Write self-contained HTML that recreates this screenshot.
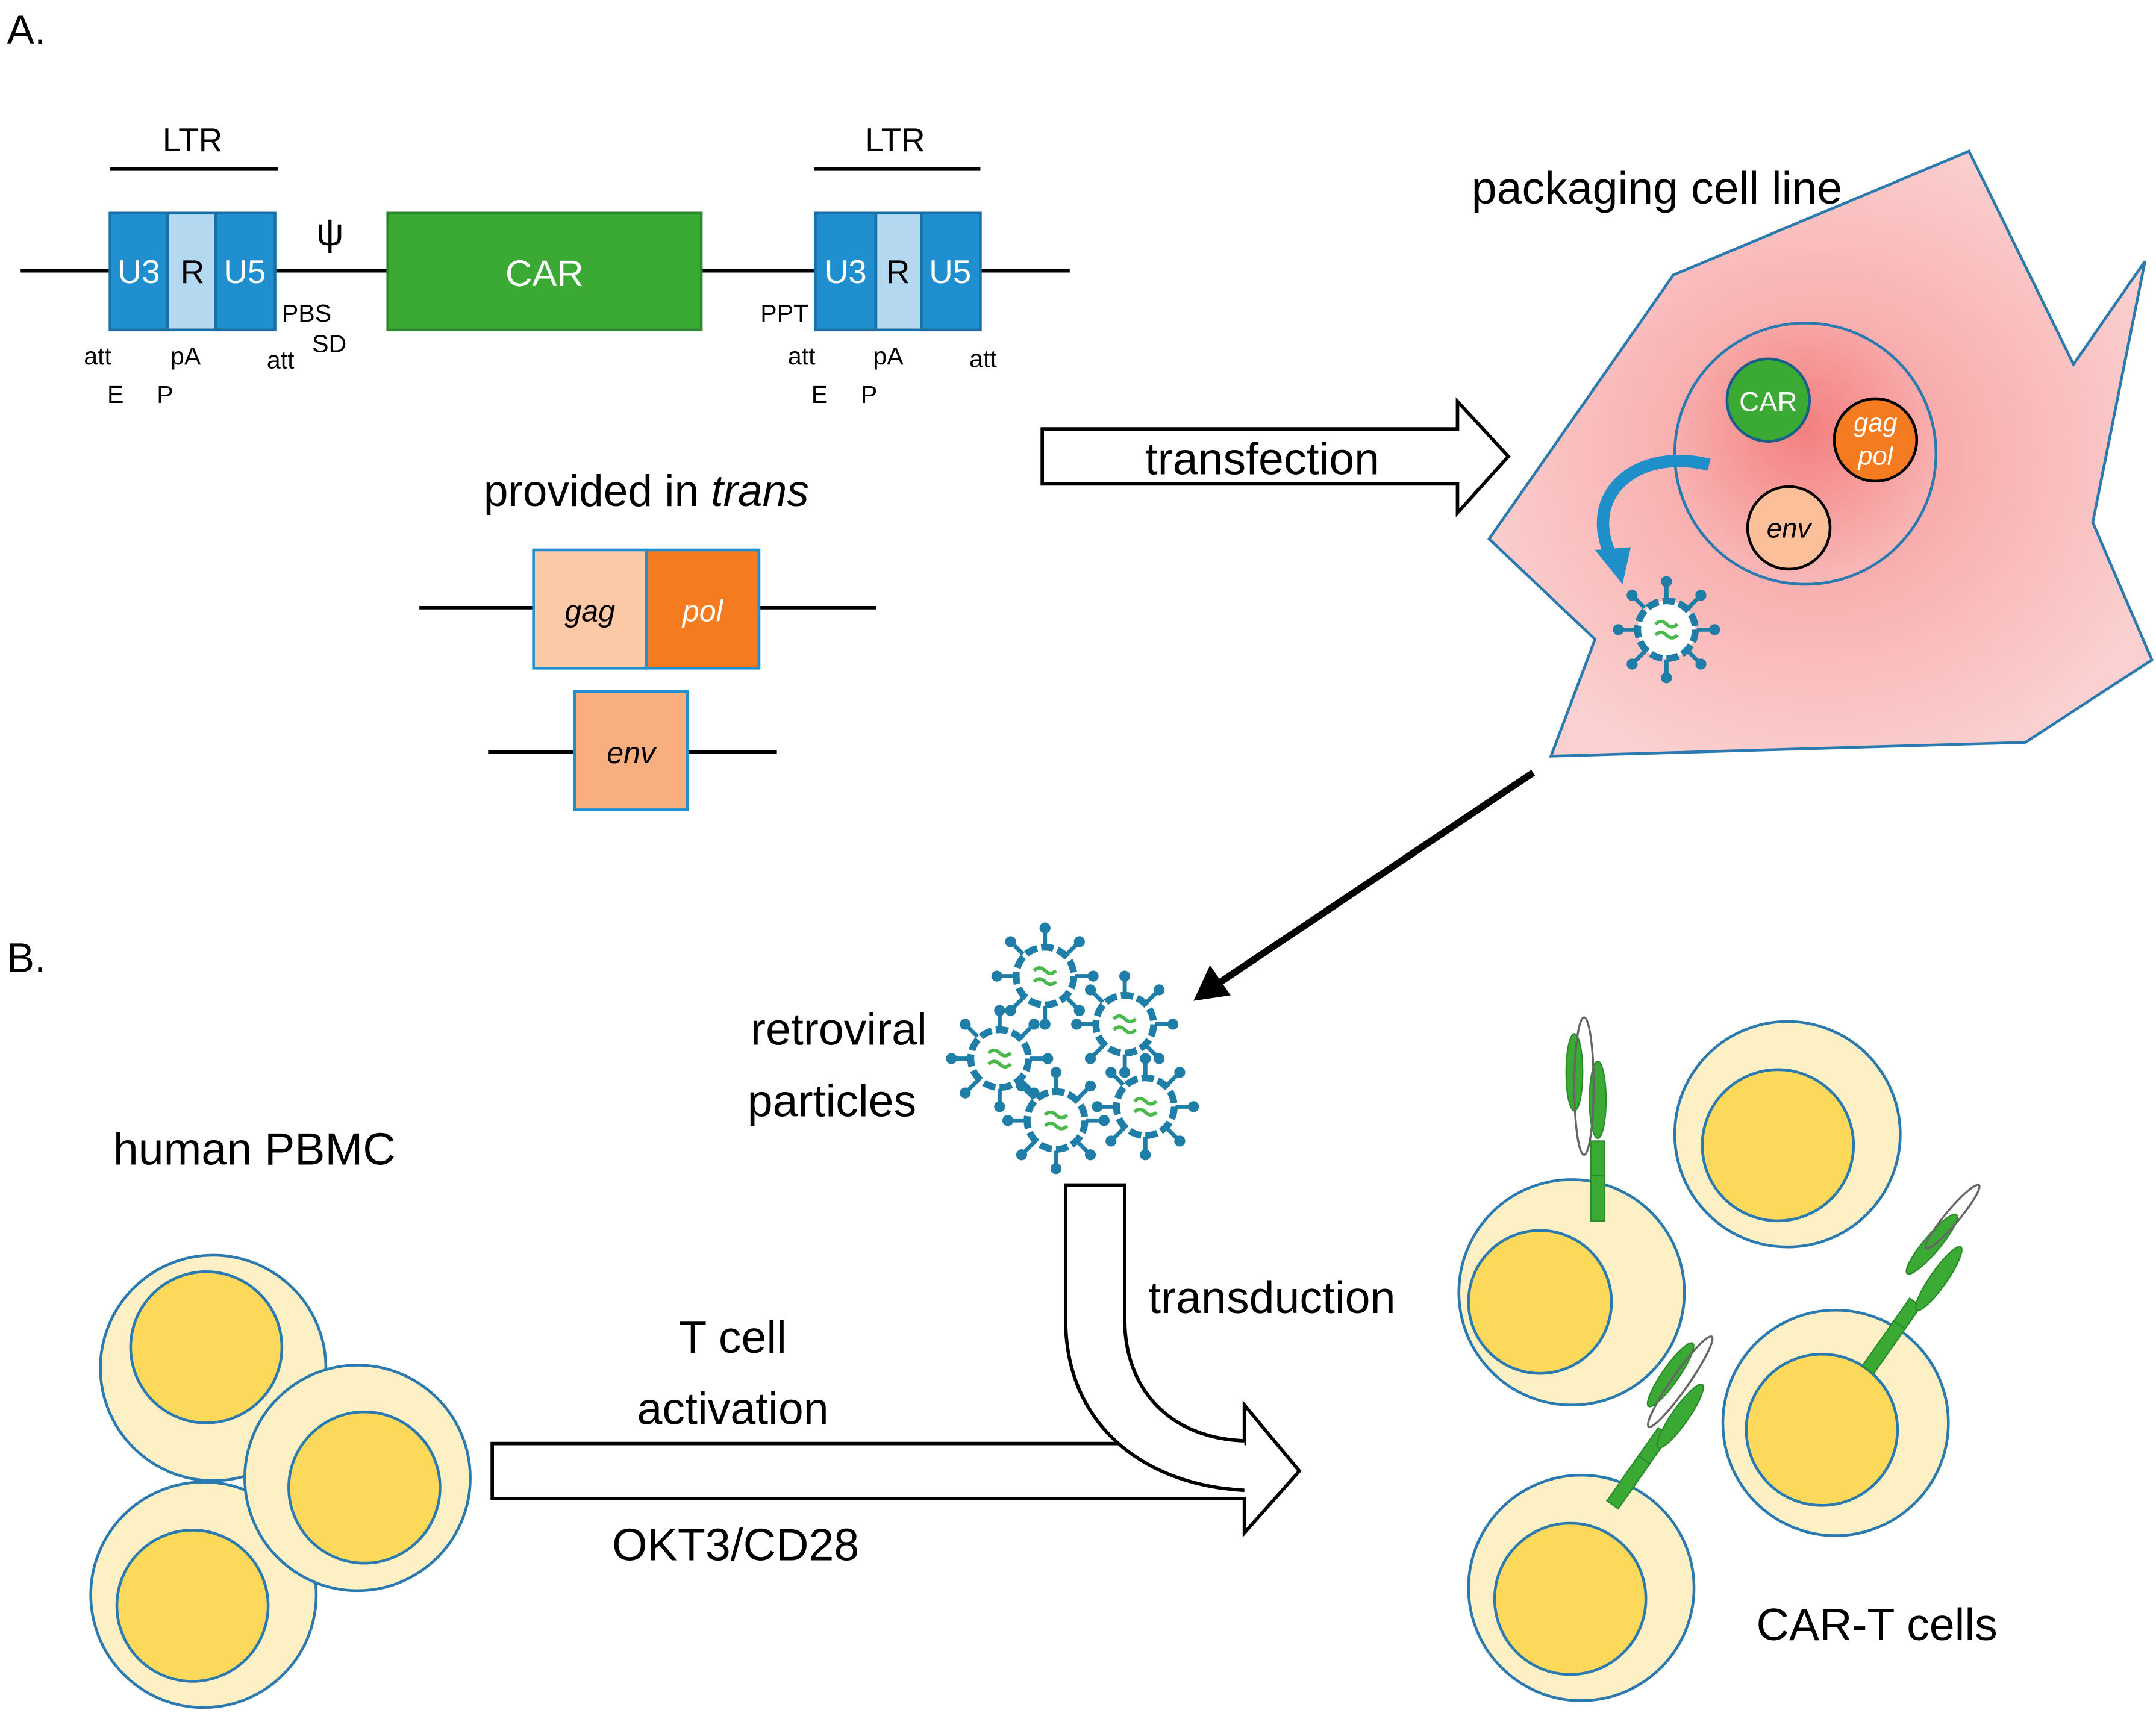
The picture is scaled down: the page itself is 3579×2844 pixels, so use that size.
<!DOCTYPE html>
<html><head><meta charset="utf-8"><style>html,body{margin:0;padding:0;background:#fff}svg{display:block}text{font-family:"Liberation Sans","DejaVu Sans",sans-serif}</style></head>
<body>
<svg width="3579" height="2844" viewBox="0 0 1568 1246" xmlns="http://www.w3.org/2000/svg">
<defs>
<radialGradient id="pk" cx="0.5" cy="0.5" r="0.55"><stop offset="0" stop-color="#f79a9a"/><stop offset="1" stop-color="#fbd0d0"/></radialGradient>
<radialGradient id="nu" cx="0.5" cy="0.4" r="0.6"><stop offset="0" stop-color="#f47f7f"/><stop offset="1" stop-color="#f9b8b8"/></radialGradient>
<g id="vir">
<g stroke="#1e7ea8" stroke-width="3">
<line x1="0" y1="-22" x2="0" y2="-34"/><line x1="0" y1="22" x2="0" y2="34"/><line x1="-22" y1="0" x2="-34" y2="0"/><line x1="22" y1="0" x2="34" y2="0"/>
<line x1="16" y1="16" x2="24" y2="24"/><line x1="-16" y1="16" x2="-24" y2="24"/><line x1="16" y1="-16" x2="24" y2="-24"/><line x1="-16" y1="-16" x2="-24" y2="-24"/>
</g>
<g fill="#1e7ea8"><circle cx="0" cy="-35" r="4"/><circle cx="0" cy="35" r="4"/><circle cx="-35" cy="0" r="4"/><circle cx="35" cy="0" r="4"/><circle cx="25" cy="25" r="4"/><circle cx="-25" cy="25" r="4"/><circle cx="25" cy="-25" r="4"/><circle cx="-25" cy="-25" r="4"/></g>
<circle r="21" fill="#fff" stroke="#1e7ea8" stroke-width="5" stroke-dasharray="9 3"/>
<path d="M-8,-4 q4,-4 8,0 t8,0 M-8,4 q4,-4 8,0 t8,0" fill="none" stroke="#4ab84a" stroke-width="2.5"/>
</g>
</defs>
<rect width="1568" height="1246" fill="#fff"/>
<text x="5" y="32" font-size="30">A.</text>
<text x="5" y="707" font-size="30">B.</text>

<line x1="15" y1="197" x2="778" y2="197" stroke="#000" stroke-width="2.5"/>
<line x1="80" y1="123" x2="202" y2="123" stroke="#000" stroke-width="2.5"/>
<line x1="592" y1="123" x2="713" y2="123" stroke="#000" stroke-width="2.5"/>
<text x="140" y="110" font-size="24" text-anchor="middle">LTR</text>
<text x="651" y="110" font-size="24" text-anchor="middle">LTR</text>
<g stroke="#1a6fa8" stroke-width="2">
<rect x="80" y="155" width="42" height="85" fill="#1f8fd0"/><rect x="122" y="155" width="35" height="85" fill="#b3d8f0"/><rect x="157" y="155" width="43" height="85" fill="#1f8fd0"/>
<rect x="593" y="155" width="44" height="85" fill="#1f8fd0"/><rect x="637" y="155" width="33" height="85" fill="#b3d8f0"/><rect x="670" y="155" width="43" height="85" fill="#1f8fd0"/>
</g>
<rect x="282" y="155" width="228" height="85" fill="#3aaa35" stroke="#2b8a2a" stroke-width="2"/>
<g font-size="24" text-anchor="middle" fill="#fff">
<text x="101" y="206">U3</text><text x="178" y="206">U5</text><text x="615" y="206">U3</text><text x="691" y="206">U5</text>
<text x="396" y="208" font-size="27">CAR</text>
</g>
<text x="140" y="206" font-size="24" text-anchor="middle">R</text>
<text x="653" y="206" font-size="24" text-anchor="middle">R</text>
<text x="240" y="178" font-size="28" text-anchor="middle">ψ</text>
<g font-size="18">
<text x="205" y="234">PBS</text><text x="227" y="256">SD</text><text x="61" y="265">att</text><text x="124" y="265">pA</text><text x="194" y="268">att</text><text x="78" y="293">E</text><text x="114" y="293">P</text>
<text x="553" y="234">PPT</text><text x="573" y="265">att</text><text x="635" y="265">pA</text><text x="705" y="267">att</text><text x="590" y="293">E</text><text x="626" y="293">P</text>
</g>

<text x="470" y="368" font-size="32" text-anchor="middle">provided in <tspan font-style="italic">trans</tspan></text>
<line x1="305" y1="442" x2="637" y2="442" stroke="#000" stroke-width="2.5"/>
<rect x="388" y="400" width="82" height="86" fill="#fbc9a5" stroke="#1f8fd0" stroke-width="2"/>
<rect x="470" y="400" width="82" height="86" fill="#f47b20" stroke="#1f8fd0" stroke-width="2"/>
<text x="429" y="452" font-size="22" font-style="italic" text-anchor="middle">gag</text>
<text x="511" y="452" font-size="22" font-style="italic" text-anchor="middle" fill="#fff">pol</text>
<line x1="355" y1="547" x2="565" y2="547" stroke="#000" stroke-width="2.5"/>
<rect x="418" y="503" width="82" height="86" fill="#f9ae7f" stroke="#1f8fd0" stroke-width="2"/>
<text x="459" y="555" font-size="22" font-style="italic" text-anchor="middle">env</text>

<polygon points="758,312 1060,312 1060,292 1097,332 1060,373 1060,352 758,352" fill="#fff" stroke="#000" stroke-width="2.5"/>
<text x="918" y="345" font-size="33" text-anchor="middle">transfection</text>

<polygon points="1083,392 1217,200 1432,110 1508,265 1560,190 1522,380 1565,480 1473,540 1301,545 1128,550 1160,465" fill="url(#pk)" stroke="#2a7ab0" stroke-width="2"/>
<text x="1205" y="148" font-size="33" text-anchor="middle">packaging cell line</text>
<circle cx="1313" cy="330" r="95" fill="url(#nu)" stroke="#2a7ab0" stroke-width="2"/>
<circle cx="1286" cy="291" r="30" fill="#3aaa35" stroke="#1a5f8a" stroke-width="2"/>
<text x="1286" y="299" font-size="20" text-anchor="middle" fill="#fff">CAR</text>
<circle cx="1364" cy="320" r="30" fill="#f47b20" stroke="#000" stroke-width="2"/>
<text x="1364" y="314" font-size="19" font-style="italic" text-anchor="middle" fill="#fff">gag</text>
<text x="1364" y="338" font-size="19" font-style="italic" text-anchor="middle" fill="#fff">pol</text>
<circle cx="1301" cy="384" r="30" fill="#fbc09a" stroke="#000" stroke-width="2"/>
<text x="1301" y="391" font-size="20" font-style="italic" text-anchor="middle">env</text>
<path d="M1243,338 C1190,325 1150,360 1172,405" fill="none" stroke="#1e8fc8" stroke-width="9"/>
<polygon points="1160,400 1186,398 1180,425" fill="#1e8fc8"/>
<use href="#vir" x="1212" y="458"/>

<line x1="1115" y1="562" x2="885" y2="716" stroke="#000" stroke-width="5"/>
<polygon points="868,728 880,702 895,724" fill="#000"/>

<use href="#vir" x="760" y="710"/><use href="#vir" x="818" y="745"/><use href="#vir" x="727" y="770"/><use href="#vir" x="833" y="805"/><use href="#vir" x="768" y="815"/>
<text x="610" y="760" font-size="33" text-anchor="middle">retroviral</text>
<text x="605" y="812" font-size="33" text-anchor="middle">particles</text>

<polygon points="358,1050 905,1050 905,1022 945,1070 905,1115 905,1090 358,1090" fill="#fff" stroke="#000" stroke-width="2.5"/>
<path d="M775,862 L818,862 L818,960 C818,1010 850,1046 905,1048 L905,1082 C830,1080 775,1035 775,960 Z" fill="#fff"/>
<path d="M775,960 L775,862 L818,862 L818,960 C818,1010 850,1046 905,1048 M775,960 C775,1035 830,1080 905,1084" fill="none" stroke="#000" stroke-width="2.5"/>
<text x="925" y="955" font-size="33" text-anchor="middle">transduction</text>
<text x="533" y="984" font-size="33" text-anchor="middle">T cell</text>
<text x="533" y="1036" font-size="33" text-anchor="middle">activation</text>
<text x="535" y="1135" font-size="33" text-anchor="middle">OKT3/CD28</text>
<text x="185" y="847" font-size="33" text-anchor="middle">human PBMC</text>

<g stroke="#2a7ab0" stroke-width="2">
<circle cx="155" cy="995" r="82" fill="#fdf0c4"/><circle cx="150" cy="980" r="55" fill="#fcd95b"/>
<circle cx="148" cy="1160" r="82" fill="#fdf0c4"/><circle cx="140" cy="1168" r="55" fill="#fcd95b"/>
<circle cx="260" cy="1075" r="82" fill="#fdf0c4"/><circle cx="265" cy="1082" r="55" fill="#fcd95b"/>
</g>

<g fill="#3aaa35" stroke="#2b8a2a" stroke-width="1">
<ellipse cx="1145" cy="780" rx="6" ry="28"/><rect x="1157" y="830" width="10" height="58"/><ellipse cx="1162" cy="800" rx="6" ry="28"/>
<g transform="rotate(40 1405 905)"><ellipse cx="1405" cy="905" rx="6" ry="28"/></g>
<g transform="rotate(35 1370 980)"><rect x="1365" y="940" width="10" height="60"/></g>
<g transform="rotate(35 1410 930)"><ellipse cx="1410" cy="930" rx="6" ry="28"/></g>
<g transform="rotate(35 1215 1000)"><ellipse cx="1215" cy="1000" rx="6" ry="28"/></g>
<g transform="rotate(35 1190 1070)"><rect x="1185" y="1035" width="10" height="65"/></g>
<g transform="rotate(35 1222 1030)"><ellipse cx="1222" cy="1030" rx="6" ry="28"/></g>
</g>
<g fill="none" stroke="#666" stroke-width="1.5">
<ellipse cx="1152" cy="790" rx="7" ry="50"/>
<g transform="rotate(40 1420 885)"><ellipse cx="1420" cy="885" rx="5" ry="30"/></g>
<g transform="rotate(35 1222 1005)"><ellipse cx="1222" cy="1005" rx="6" ry="40"/></g>
</g>
<g stroke="#2a7ab0" stroke-width="2">
<circle cx="1143" cy="940" r="82" fill="#fdf0c4"/><circle cx="1120" cy="947" r="52" fill="#fcd95b"/>
<circle cx="1300" cy="825" r="82" fill="#fdf0c4"/><circle cx="1293" cy="833" r="55" fill="#fcd95b"/>
<circle cx="1335" cy="1035" r="82" fill="#fdf0c4"/><circle cx="1325" cy="1040" r="55" fill="#fcd95b"/>
<circle cx="1150" cy="1155" r="82" fill="#fdf0c4"/><circle cx="1142" cy="1163" r="55" fill="#fcd95b"/>
</g>
<g fill="#3aaa35" stroke="#2b8a2a" stroke-width="1">
<rect x="1157" y="855" width="10" height="33"/>
<g transform="rotate(35 1370 980)"><rect x="1365" y="960" width="10" height="40"/></g>
<g transform="rotate(35 1190 1070)"><rect x="1185" y="1060" width="10" height="40"/></g>
</g>
<text x="1365" y="1193" font-size="33" text-anchor="middle">CAR-T cells</text>
</svg>
</body></html>
